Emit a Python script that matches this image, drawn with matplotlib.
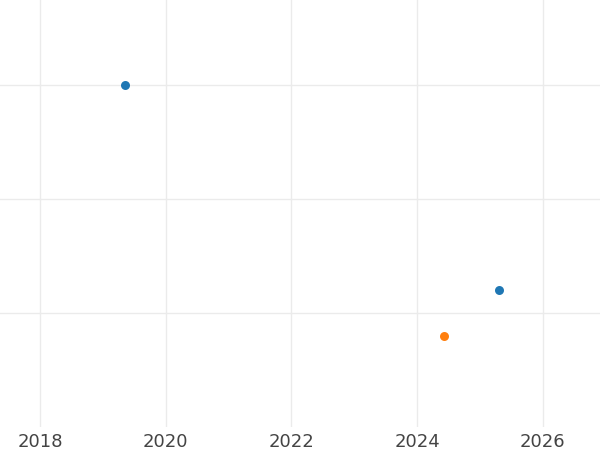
import matplotlib
matplotlib.use('Agg')
import matplotlib.pyplot as plt

# data
blue_x = [2019.36, 2025.30]
blue_y = [3.0, 1.2]
orange_x = [2024.43]
orange_y = [0.8]
xticks = [2018, 2020, 2022, 2024, 2026]
yticks = [1, 2, 3]

fig = plt.figure(figsize=(6, 4.5), dpi=100)
ax = fig.add_axes([0, 0.0511, 1, 0.9489])
ax.scatter(blue_x, blue_y, s=42, color='#1f77b4', zorder=3, linewidths=0)
ax.scatter(orange_x, orange_y, s=42, color='#ff7f0e', zorder=3, linewidths=0)

ax.set_xlim(2017.364, 2026.91)
ax.set_ylim(0, 3.746)
ax.set_xticks(xticks)
ax.set_yticks(yticks)
ax.set_yticklabels([])
ax.grid(True, color='#ebebeb', linewidth=1)
ax.set_axisbelow(True)
ax.tick_params(length=0, labelsize=13, labelcolor='#444444', pad=4)
for s in ax.spines.values():
    s.set_visible(False)

fig.savefig('out.png', dpi=100)
